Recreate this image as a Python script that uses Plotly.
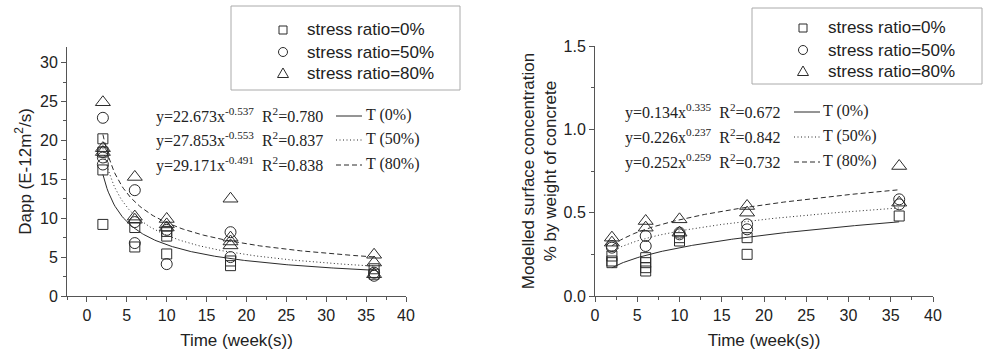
import plotly.graph_objects as go
import numpy as np

# ---------------- data: left chart (Dapp, E-12 m2/s) ----------------
L_sq_x = [2, 2, 2, 2, 6, 6, 10, 10, 10, 18, 18, 36, 36]
L_sq_y = [20.2, 18.5, 16.2, 9.2, 8.8, 6.3, 8.3, 7.7, 5.4, 4.5, 3.9, 3.5, 2.8]
L_ci_x = [2, 2, 2, 2, 6, 6, 6, 10, 10, 18, 18, 36, 36]
L_ci_y = [22.9, 18.5, 17.8, 16.9, 13.6, 9.5, 6.8, 8.5, 4.1, 8.2, 5.0, 3.0, 2.6]
L_tr_x = [2, 2, 2, 6, 6, 6, 10, 10, 10, 18, 18, 18, 18, 36, 36, 36]
L_tr_y = [24.9, 19.0, 18.5, 15.3, 10.2, 9.8, 9.9, 9.2, 8.8, 12.5, 7.5, 7.0, 6.5, 5.3, 4.3, 2.8]

# fit equations y = a * x^b shown on the left chart
L_fit_a = [22.673, 27.853, 29.171]
L_fit_b = [-0.537, -0.553, -0.491]
L_fit_r2 = ["0.780", "0.837", "0.838"]

# ---------------- data: right chart (surface concentration) ----------------
R_sq_x = [2, 2, 2, 6, 6, 6, 6, 10, 10, 18, 18, 36]
R_sq_y = [0.24, 0.21, 0.20, 0.23, 0.20, 0.17, 0.15, 0.35, 0.33, 0.35, 0.25, 0.48]
R_ci_x = [2, 2, 6, 6, 10, 10, 18, 18, 36, 36]
R_ci_y = [0.30, 0.29, 0.36, 0.30, 0.38, 0.37, 0.43, 0.40, 0.58, 0.55]
R_tr_x = [2, 2, 6, 6, 10, 10, 18, 18, 36, 36]
R_tr_y = [0.35, 0.32, 0.45, 0.41, 0.46, 0.38, 0.54, 0.50, 0.78, 0.56]

R_fit_a = [0.134, 0.226, 0.252]
R_fit_b = [0.335, 0.237, 0.259]
R_fit_r2 = ["0.672", "0.842", "0.732"]

series_names = ["stress ratio=0%", "stress ratio=50%", "stress ratio=80%"]
fit_labels = ["T (0%)", "T (50%)", "T (80%)"]
fit_x_range = [2, 36]

# ---------------- styling ----------------
INK = "#2b2b2b"
symbols = ["square-open", "circle-open", "triangle-up-open"]
sizes = [10, 11, 13]
dashes = ["solid", "1px,2.5px", "5px,3px"]
SANS = "Liberation Sans, Arial, sans-serif"
SERIF = "Liberation Serif, Times New Roman, serif"
TXT = "#222"

fig = go.Figure()

def add_points(xs, ys, i, xa, ya):
    fig.add_trace(go.Scatter(
        x=xs, y=ys, mode="markers", name=series_names[i],
        marker=dict(symbol=symbols[i], size=sizes[i], color=INK, line=dict(width=1, color=INK)),
        xaxis=xa, yaxis=ya, showlegend=False))

def add_fit(a, b, i, xa, ya):
    xx = np.linspace(fit_x_range[0], fit_x_range[1], 200)
    yy = a * xx ** b
    fig.add_trace(go.Scatter(
        x=xx, y=yy, mode="lines", name=fit_labels[i], line=dict(color=INK, width=1, dash=dashes[i]),
        xaxis=xa, yaxis=ya, showlegend=False, hoverinfo="skip"))

for i, (xs, ys) in enumerate([(L_sq_x, L_sq_y), (L_ci_x, L_ci_y), (L_tr_x, L_tr_y)]):
    add_points(xs, ys, i, "x", "y")
for i in range(3):
    add_fit(L_fit_a[i], L_fit_b[i], i, "x", "y")
for i, (xs, ys) in enumerate([(R_sq_x, R_sq_y), (R_ci_x, R_ci_y), (R_tr_x, R_tr_y)]):
    add_points(xs, ys, i, "x2", "y2")
for i in range(3):
    add_fit(R_fit_a[i], R_fit_b[i], i, "x2", "y2")

W, H = 983, 356
def px(x): return x / W
def py(y): return 1 - y / H

axis_common = dict(showline=True, linecolor="#555", linewidth=1, ticks="outside",
                   ticklen=5, tickcolor="#555", showgrid=False, zeroline=False,
                   automargin=False,
                   tickfont=dict(family=SANS, size=16, color=TXT), mirror=False)
minor_common = dict(ticks="outside", ticklen=3, tickcolor="#555")
title_font = dict(family=SANS, size=17, color=TXT)

fig.update_layout(
    width=W, height=H, margin=dict(l=0, r=0, t=0, b=0, autoexpand=False),
    paper_bgcolor="white", plot_bgcolor="white", showlegend=False,
    xaxis=dict(domain=[px(67), px(406)], range=[-2.5, 40], dtick=5, tick0=0,
               minor=dict(dtick=2.5, tick0=0, **minor_common),
               title=dict(text="Time (week(s))", font=title_font, standoff=10),
               anchor="y", **axis_common),
    yaxis=dict(domain=[py(296), py(47)], range=[0, 32], dtick=5, tick0=0,
               minor=dict(dtick=2.5, tick0=0, **minor_common),
               title=dict(text="Dapp (E-12m<sup>2</sup>/s)", font=title_font, standoff=4),
               anchor="x", **axis_common),
    xaxis2=dict(domain=[px(595), px(933)], range=[0, 40], dtick=5, tick0=0,
                minor=dict(dtick=2.5, tick0=0, **minor_common),
                title=dict(text="Time (week(s))", font=title_font, standoff=10),
                anchor="y2", **axis_common),
    yaxis2=dict(domain=[py(296), py(46)], range=[0, 1.5], dtick=0.5, tick0=0, tickformat=".1f",
                minor=dict(dtick=0.25, tick0=0, **minor_common),
                title=dict(text="Modelled surface concentration<br>% by weight of concrete",
                           font=title_font, standoff=2),
                anchor="x2", **axis_common),
)

shapes = []
annotations = []

# ---- legend boxes drawn as layout shapes + text ----
def add_legend(box, sym_x, text_x, rows):
    x0, y0, x1, y1 = box
    shapes.append(dict(type="rect", xref="paper", yref="paper", x0=px(x0), x1=px(x1),
                       y0=py(y1), y1=py(y0), line=dict(color="#aaa", width=1),
                       fillcolor="rgba(0,0,0,0)"))
    lw = dict(color=INK, width=1)
    # square
    r = rows[0]
    shapes.append(dict(type="rect", xref="paper", yref="paper", x0=px(sym_x - 4), x1=px(sym_x + 4),
                       y0=py(r + 4), y1=py(r - 4), line=lw))
    # circle
    r = rows[1]
    shapes.append(dict(type="circle", xref="paper", yref="paper", x0=px(sym_x - 4.5), x1=px(sym_x + 4.5),
                       y0=py(r + 4.5), y1=py(r - 4.5), line=lw))
    # triangle
    r = rows[2]
    path = "M {:.5f},{:.5f} L {:.5f},{:.5f} L {:.5f},{:.5f} Z".format(
        px(sym_x - 5.5), py(r + 4.5), px(sym_x + 5.5), py(r + 4.5), px(sym_x), py(r - 5))
    shapes.append(dict(type="path", xref="paper", yref="paper", path=path, line=lw))
    for i in range(3):
        annotations.append(dict(xref="paper", yref="paper", x=px(text_x), y=py(rows[i]),
                                xanchor="left", yanchor="middle", showarrow=False,
                                text=series_names[i], font=dict(family=SANS, size=17, color=TXT)))

add_legend((231, 6, 460, 90), 283, 305, [30, 52, 73])
add_legend((752, 8, 982, 84), 803, 826, [28, 50, 71])

def add_eq_block(a_list, b_list, r2_list, x_text, x_line0, x_line1, x_label, ys):
    for i in range(3):
        a = "{:.3f}".format(a_list[i])
        b = "{:.3f}".format(b_list[i])
        txt = "y=" + a + "x<sup>" + b + "</sup>  R<sup>2</sup>=" + r2_list[i]
        annotations.append(dict(xref="paper", yref="paper", x=px(x_text), y=py(ys[i]),
                                xanchor="left", yanchor="middle", showarrow=False, text=txt,
                                font=dict(family=SERIF, size=16, color=TXT)))
        shapes.append(dict(type="line", xref="paper", yref="paper", x0=px(x_line0), x1=px(x_line1),
                           y0=py(ys[i] + 1), y1=py(ys[i] + 1),
                           line=dict(color=INK, width=1, dash=dashes[i])))
        annotations.append(dict(xref="paper", yref="paper", x=px(x_label), y=py(ys[i]),
                                xanchor="left", yanchor="middle", showarrow=False, text=fit_labels[i],
                                font=dict(family=SERIF, size=16, color=TXT)))

add_eq_block(L_fit_a, L_fit_b, L_fit_r2, 154, 336, 362, 364, [115, 139, 164])
add_eq_block(R_fit_a, R_fit_b, R_fit_r2, 623, 794, 820, 821, [111, 136, 161])

fig.update_layout(shapes=shapes, annotations=annotations)
fig.write_html("out.html")
